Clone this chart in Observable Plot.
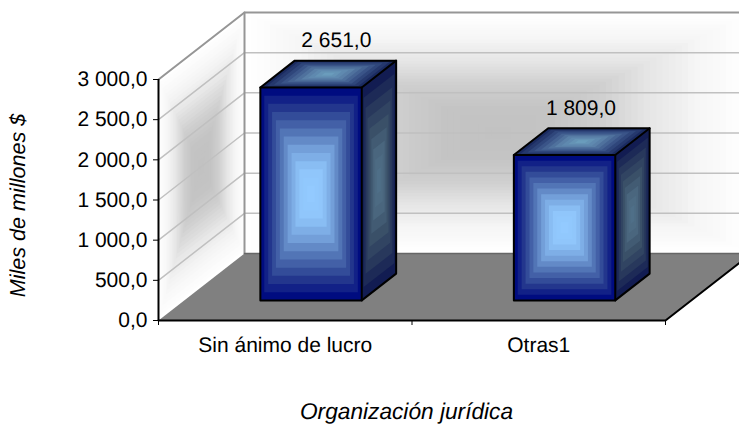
<!DOCTYPE html>
<html><head><meta charset="utf-8">
<script src="https://cdn.jsdelivr.net/npm/d3@7"></script>
<script src="https://cdn.jsdelivr.net/npm/@observablehq/plot@0.6"></script>
<style>html,body{margin:0;padding:0;background:#fff;overflow:hidden}</style>
</head><body><div id="chart"></div>
<script>
const categories = ["Sin ánimo de lucro", "Otras1"];
const values = [2651, 1809];
const yTicks = [0, 500, 1000, 1500, 2000, 2500, 3000];
const yTitle = "Miles de millones $";
const xTitle = "Organización jurídica";
const labelShift = [0.035, 0];

const fmt = d3.formatLocale({decimal: ",", thousands: " ", grouping: [3]}).format(",.1f");
const DX = 86 / 253.5, DY = 834, vMax = 3000;
const P = (c, v, d) => ({x: c + d * DX, y: v + d * DY});
const GAP = 0.3, D0 = 0.3, D1 = 0.7;
const FONT = 21;

let id = 0;
function poly(out, pts, fill) { const k = id++; for (const p of [...pts, pts[0]]) out.push({...p, id: k, fill}); }
function concentric(out, corner, n, ramp) {
  for (let i = 0; i < n; i++) {
    const t = i / n, a = t / 2, b = 1 - t / 2;
    poly(out, [corner(a, a), corner(b, a), corner(b, b), corner(a, b)], ramp(i / (n - 1)));
  }
}
const rampOf = (...cs) => d3.piecewise(d3.interpolateRgb, cs);

// walls and floor
const walls = [], floor = [], bars = [];
const wallRamp = rampOf("#ffffff", "#f6f6f6", "#e6e6e6", "#cfcfcf", "#c4c4c4", "#c2c2c2");
concentric(walls, (a, b) => P(a * 2, b * vMax, 1), 40, wallRamp);
concentric(walls, (a, b) => P(0, b * vMax, a), 30, wallRamp);
poly(floor, [P(0, 0, 0), P(2, 0, 0), P(2, 0, 1), P(0, 0, 1)], "#808080");

// bars: back sides first, then faces
const frontRamp = rampOf("#000c80", "#2a3f90", "#4f71b2", "#76a3dc", "#8fc5fa", "#93caff");
const sideRamp = rampOf("#121c52", "#28385c", "#3a5068", "#4a667e", "#4f6f88");
const topRamp = rampOf("#1a2a60", "#3a5488", "#5a80a8", "#6a9cbc");
const outlines = [];
values.forEach((v, i) => {
  const c0 = i + GAP, c1 = i + 1 - GAP;
  concentric(bars, (a, b) => P(c1, b * v, D0 + a * (D1 - D0)), 9, sideRamp);
  concentric(bars, (a, b) => P(c0 + a * (c1 - c0), v, D0 + b * (D1 - D0)), 10, topRamp);
  concentric(bars, (a, b) => P(c0 + a * (c1 - c0), b * v, D0), 13, frontRamp);
  const o = pts => { const k = outlines.length ? outlines[outlines.length - 1].id + 1 : 0; for (const p of pts) outlines.push({...p, id: k}); };
  o([P(c0, 0, D0), P(c1, 0, D0), P(c1, v, D0), P(c0, v, D0), P(c0, 0, D0)]);
  o([P(c1, 0, D0), P(c1, 0, D1), P(c1, v, D1), P(c0, v, D1), P(c0, v, D0)]);
  o([P(c1, v, D0), P(c1, v, D1)]);
});

const gridLines = yTicks.slice(1, -1).flatMap((t, i) => [P(0, t, 0), P(0, t, 1), P(2.2, t, 1)].map(p => ({...p, id: i})));
const wallEdge = [P(0, vMax, 0), P(0, vMax, 1), P(2.2, vMax, 1)];
const backEdge = [P(0, 0, 1), P(0, vMax, 1)];
const floorBack = [P(0, 0, 1), P(2.2, 0, 1)];
const floorFront = [P(0, 0, 0), P(2, 0, 0), P(2, 0, 1)];

const labels = values.map((v, i) => ({...P(i + 0.5 + labelShift[i], v, D1), text: fmt(v)}));
const line = (d, opts) => Plot.line(d, {x: "x", y: "y", ...opts});

const chart = Plot.plot({
  width: 739, height: 425,
  marginLeft: 158, marginRight: 74, marginTop: 79, marginBottom: 105,
  x: {domain: [0, 2], axis: null},
  y: {domain: [0, vMax], axis: null},
  color: {type: "identity"},
  style: {fontFamily: "'Liberation Sans', Arial, sans-serif", fontSize: FONT + "px", background: "#fff", color: "#000", textRendering: "geometricPrecision"},
  marks: [
    line(walls, {z: "id", fill: "fill", stroke: "none"}),
    line(gridLines, {z: "id", stroke: "#c0c0c0", strokeWidth: 1.5}),
    line(backEdge, {stroke: "#969696", strokeWidth: 2}),
    line(wallEdge, {stroke: "#969696", strokeWidth: 2}),
    line(floor, {z: "id", fill: "fill", stroke: "none"}),
    line(floorBack, {stroke: "#666", strokeWidth: 1.5}),
    line(floorFront, {stroke: "#000", strokeWidth: 2}),
    line(bars, {z: "id", fill: "fill", stroke: "none"}),
    line(outlines, {z: "id", stroke: "#000", strokeWidth: 2}),
    Plot.axisY({ticks: yTicks, tickFormat: fmt, tickSize: 5, tickPadding: 6, label: null, fontSize: FONT, stroke: "#000"}),
    Plot.ruleX([0], {stroke: "#000", strokeWidth: 2}),
    Plot.axisX({ticks: [0, 1, 2], tickFormat: () => "", tickSize: 5, label: null, stroke: "#000"}),
    Plot.axisX({ticks: [0.5, 1.5], tickFormat: t => categories[t - 0.5], tickSize: 0, tickPadding: 17, label: null, fontSize: FONT}),
    Plot.text(labels, {x: "x", y: "y", text: "text", dy: -20.5, dx: -18, fontSize: FONT, fill: "#000"}),
    Plot.text([yTitle], {frameAnchor: "left", textAnchor: "middle", dx: -140, dy: 5.5, rotate: -90, fontStyle: "italic", fontSize: 21.6, fill: "#000"}),
    Plot.text([xTitle], {frameAnchor: "bottom", dx: -5.5, dy: 98, fontStyle: "italic", fontSize: 22.7, fill: "#000"})
  ]
});
document.getElementById("chart").appendChild(chart);
</script></body></html>
